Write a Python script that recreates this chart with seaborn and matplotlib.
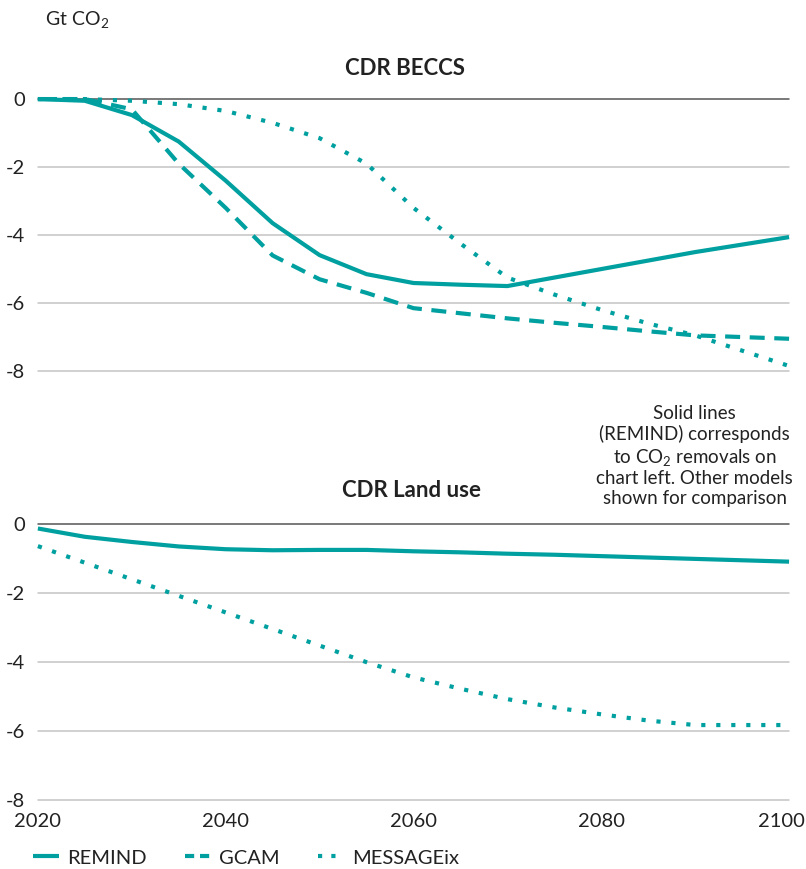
import numpy as np
import pandas as pd
import matplotlib
matplotlib.use("Agg")
import matplotlib.pyplot as plt
import matplotlib.transforms as mtransforms
from matplotlib.lines import Line2D
import seaborn as sns

# ---- data ----
years = [2020, 2025, 2030, 2035, 2040, 2045, 2050, 2055, 2060, 2065, 2070, 2075, 2080, 2085, 2090, 2095, 2100]

beccs_remind = [0.0, -0.05, -0.47, -1.25, -2.4, -3.65, -4.59, -5.15, -5.41, -5.46, -5.5, -5.25, -5.0, -4.75, -4.5, -4.28, -4.06]
beccs_gcam = [0.0, 0.0, -0.3, -1.9, -3.2, -4.6, -5.3, -5.7, -6.15, -6.3, -6.45, -6.58, -6.7, -6.83, -6.95, -7.0, -7.05]
beccs_message = [0.0, 0.0, -0.05, -0.15, -0.35, -0.7, -1.15, -1.9, -3.2, -4.25, -5.25, -5.75, -6.2, -6.6, -6.95, -7.4, -7.85]

land_remind = [-0.14, -0.38, -0.53, -0.66, -0.74, -0.77, -0.76, -0.76, -0.8, -0.83, -0.87, -0.9, -0.94, -0.98, -1.02, -1.06, -1.1]
land_message = [-0.65, -1.13, -1.61, -2.09, -2.57, -3.05, -3.53, -4.01, -4.45, -4.78, -5.08, -5.32, -5.52, -5.7, -5.83, -5.83, -5.83]

models = ["REMIND", "GCAM", "MESSAGEix"]
y_ticks = [0, -2, -4, -6, -8]
x_ticks = [2020, 2040, 2060, 2080, 2100]

TEAL = "#00a0a0"
TXT = "#222222"
FONT = ["Lato", "DejaVu Sans"]

sns.set_theme(style="white")
plt.rcParams["font.family"] = FONT
plt.rcParams["axes.unicode_minus"] = False
plt.rcParams["mathtext.fontset"] = "custom"
plt.rcParams["mathtext.rm"] = "Lato"
plt.rcParams["mathtext.it"] = "Lato"

def long_df(series):
    rows = []
    for name, vals in series.items():
        for yr, v in zip(years, vals):
            rows.append({"year": yr, "value": v, "model": name})
    return pd.DataFrame(rows)

df_top = long_df({"REMIND": beccs_remind, "GCAM": beccs_gcam, "MESSAGEix": beccs_message})
df_bot = long_df({"REMIND": land_remind, "MESSAGEix": land_message})

dashes = {"REMIND": "", "GCAM": (3.6, 2.3), "MESSAGEix": (1, 2.6)}

fig = plt.figure(figsize=(8.06, 8.69), dpi=100)
ax1 = fig.add_axes([0.047, 0.573, 0.932, 0.313])
ax2 = fig.add_axes([0.047, 0.0794, 0.932, 0.318])

for ax, df in [(ax1, df_top), (ax2, df_bot)]:
    sns.lineplot(data=df, x="year", y="value", style="model",
                 style_order=[m for m in models if m in df["model"].unique()],
                 dashes=dashes, color=TEAL, linewidth=3, ax=ax, legend=False)
    for ln in ax.get_lines():
        ln.set_dash_capstyle("butt")
        ln.set_solid_capstyle("butt")
        ln.set_clip_on(False)
        ln.set_zorder(3)
    ax.set_xlim(2020, 2100)
    ax.set_ylim(-8, 0)
    ax.set_yticks(y_ticks)
    ax.set_yticklabels([str(t) for t in y_ticks])
    ax.set_xticks(x_ticks)
    ax.set_xlabel("")
    ax.set_ylabel("")
    for s in ax.spines.values():
        s.set_visible(False)
    ax.grid(axis="y", color="#c4c4c4", linewidth=1.1)
    ax.grid(axis="x", visible=False)
    for gl, t in zip(ax.yaxis.get_gridlines(), ax.get_yticks()):
        if t == 0:
            gl.set_color("#555555")
            gl.set_linewidth(1.1)
        gl.set_clip_on(False)
    ax.tick_params(axis="both", length=0, labelsize=14.5, colors=TXT)
    ax.tick_params(axis="y", pad=9)
    ax.tick_params(axis="x", pad=9)
    ax.set_axisbelow(True)

ax1.set_xticklabels([])
# nudge the last x label so it stays within the figure
lbls = ax2.get_xticklabels()
lbls[-1].set_transform(lbls[-1].get_transform() + mtransforms.ScaledTranslation(-8 / 100, 0, fig.dpi_scale_trans))

fig.text(0.056, 0.978, "Gt CO$_2$", fontsize=14, color=TXT, va="center", ha="left")
fig.text(0.502, 0.921, "CDR BECCS", fontsize=16, fontweight="bold", color=TXT, ha="center", va="center")
fig.text(0.511, 0.436, "CDR Land use", fontsize=16, fontweight="bold", color=TXT, ha="center", va="center")
fig.text(0.862, 0.475,
         "Solid lines\n(REMIND) corresponds\nto CO$_2$ removals on\nchart left. Other models\nshown for comparison",
         fontsize=13.5, color=TXT, ha="center", va="center", linespacing=1.2)

handles = [
    Line2D([], [], color=TEAL, linewidth=3, solid_capstyle="butt"),
    Line2D([], [], color=TEAL, linewidth=3, dashes=(2.2, 1.4), dash_capstyle="butt"),
    Line2D([], [], color=TEAL, linewidth=3, dashes=(1, 2.2), dash_capstyle="butt"),
]
fig.legend(handles, models, loc="lower left", bbox_to_anchor=(0.018, -0.018), ncol=3,
           frameon=False, fontsize=14.5, handlelength=1.3, handletextpad=0.4,
           columnspacing=1.9, labelcolor=TXT)

fig.savefig("out.png", dpi=100)
